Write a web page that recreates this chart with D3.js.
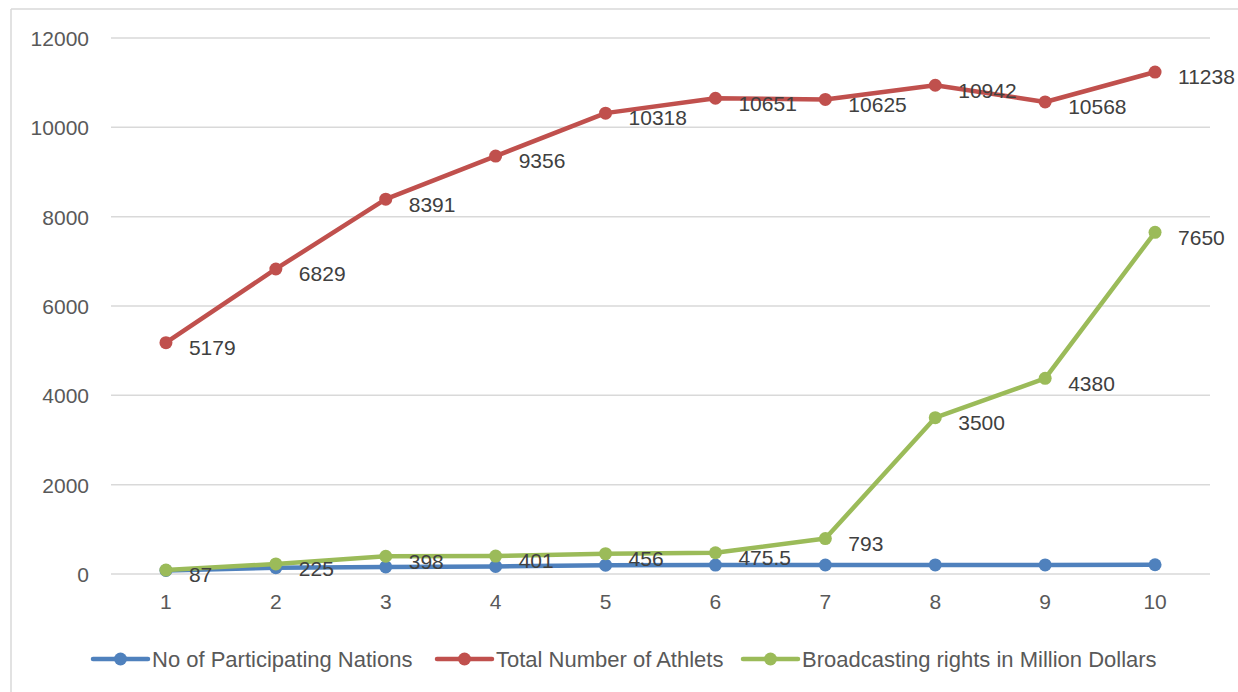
<!DOCTYPE html>
<html>
<head>
<meta charset="utf-8">
<script src="https://cdn.jsdelivr.net/npm/d3@7"></script>
<style>
  html, body { margin: 0; padding: 0; background: #fff; }
  svg text { font-family: "Liberation Sans", Arial, sans-serif; }
</style>
</head>
<body>
<svg id="chart" width="1238" height="692"></svg>
<script>
// Olympic editions, numbered 1..10
const categories = [1, 2, 3, 4, 5, 6, 7, 8, 9, 10];
const nations = [80, 140, 159, 169, 197, 199, 201, 204, 204, 207];
const athletes = [5179, 6829, 8391, 9356, 10318, 10651, 10625, 10942, 10568, 11238];
const broadcasting = [87, 225, 398, 401, 456, 475.5, 793, 3500, 4380, 7650];
const yTicks = [0, 2000, 4000, 6000, 8000, 10000, 12000];

const series = [
  { name: "No of Participating Nations", values: nations, color: "#4f81bd", labels: false },
  { name: "Total Number of Athlets", values: athletes, color: "#c0504d", labels: true },
  { name: "Broadcasting rights in Million Dollars", values: broadcasting, color: "#9bbb59", labels: true }
];

const svg = d3.select("#chart");

// outer frame (left and top edges)
svg.append("line").attr("x1", 11).attr("x2", 11).attr("y1", 9).attr("y2", 692)
  .attr("stroke", "#d9d9d9").attr("stroke-width", 1.5);
svg.append("line").attr("x1", 11).attr("x2", 1238).attr("y1", 9).attr("y2", 9)
  .attr("stroke", "#d9d9d9").attr("stroke-width", 1.5);

const x = d3.scaleBand().domain(categories).range([111, 1210]);
const y = d3.scaleLinear().domain([0, 12000]).range([574, 38]);
const cx = d => x(d) + x.bandwidth() / 2;

// horizontal gridlines
svg.append("g").selectAll("line").data(yTicks).join("line")
  .attr("x1", 111).attr("x2", 1210)
  .attr("y1", d => y(d)).attr("y2", d => y(d))
  .attr("stroke", "#d9d9d9").attr("stroke-width", 1.5);

// y axis labels
const yAxis = d3.axisLeft(y).tickValues(yTicks).tickSize(0).tickPadding(0).tickFormat(d3.format("d"));
svg.append("g").attr("transform", "translate(89,0)").call(yAxis)
  .call(g => g.select(".domain").remove())
  .call(g => g.selectAll("text").attr("font-size", 21).attr("fill", "#595959")
    .attr("font-family", null).attr("dy", "0.35em"));

// x axis labels
const xAxis = d3.axisBottom(x).tickSize(0).tickPadding(0);
svg.append("g").attr("transform", "translate(0,594)").call(xAxis)
  .call(g => g.select(".domain").remove())
  .call(g => g.selectAll("text").attr("font-size", 21).attr("fill", "#595959")
    .attr("font-family", null).attr("dy", "0.7em"));

const line = d3.line().x((d, i) => cx(categories[i])).y(d => y(d));

series.forEach(s => {
  const g = svg.append("g");
  g.append("path").datum(s.values).attr("d", line)
    .attr("fill", "none").attr("stroke", s.color).attr("stroke-width", 4.5)
    .attr("stroke-linejoin", "round").attr("stroke-linecap", "round");
  g.selectAll("circle").data(s.values).join("circle")
    .attr("cx", (d, i) => cx(categories[i])).attr("cy", d => y(d)).attr("r", 6.5)
    .attr("fill", s.color);
});

// data labels to the right of each point
series.filter(s => s.labels).forEach(s => {
  svg.append("g").selectAll("text").data(s.values).join("text")
    .attr("x", (d, i) => cx(categories[i]) + 23)
    .attr("y", d => y(d) + 5)
    .attr("dy", "0.35em")
    .attr("font-size", 21).attr("fill", "#404040")
    .text(d => d);
});

// legend
const legendItems = [
  { s: series[0], x0: 93 },
  { s: series[1], x0: 437 },
  { s: series[2], x0: 743 }
];
legendItems.forEach(({ s, x0 }) => {
  const g = svg.append("g").attr("transform", `translate(${x0},659)`);
  g.append("line").attr("x1", 0).attr("x2", 55).attr("stroke", s.color)
    .attr("stroke-width", 4.5).attr("stroke-linecap", "round");
  g.append("circle").attr("cx", 27.5).attr("r", 6.5).attr("fill", s.color);
  g.append("text").attr("x", 59).attr("dy", "0.35em").attr("font-size", 22)
    .attr("fill", "#595959").text(s.name);
});
</script>
</body>
</html>
